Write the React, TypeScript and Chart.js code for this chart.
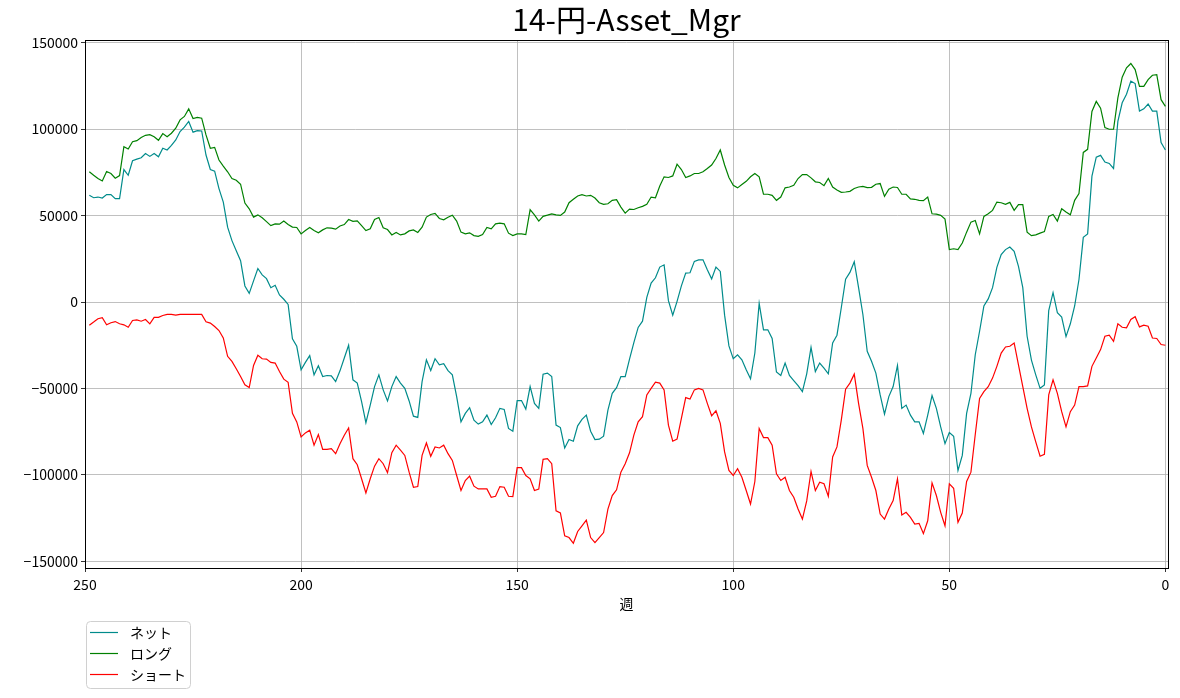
import React, { useEffect, useRef } from 'react';
import Chart from 'chart.js/auto';

// weeks before now, oldest first
const weeks: number[] = Array.from({ length: 250 }, (_, i) => 249 - i);

const netValues: number[] = [
  61700, 60300, 60700, 60100, 62100, 62100, 59800, 59800, 76600, 73300,
  81700, 82600, 83400, 85900, 84200, 85900, 84000, 88900, 87900, 90600,
  93700, 98600, 101100, 104400, 98200, 99100, 98900, 85000, 76600, 75700,
  65600, 57800, 43300, 35500, 29700, 23900, 9300, 5000, 12200, 19400,
  15700, 13500, 8300, 9700, 4100, 1600, -1400, -21300, -25600, -39200,
  -34900, -31000, -42100, -36900, -43100, -42500, -42700, -46000, -39800, -32400,
  -25000, -45000, -46900, -57600, -69800, -59600, -48900, -42100, -50800, -57200,
  -48900, -43100, -46900, -49900, -57200, -66000, -66700, -46000, -33400, -39600,
  -32800, -36300, -35700, -39700, -42100, -54700, -69300, -64400, -61100, -68300,
  -70600, -69300, -65400, -70800, -66900, -61500, -62100, -73100, -74700, -57000,
  -57000, -61900, -48900, -58600, -61500, -41700, -41100, -43100, -71200, -72600,
  -84400, -79500, -80500, -71600, -67900, -65400, -74700, -79500, -79300, -77600,
  -62500, -52800, -49500, -43100, -43100, -33000, -23500, -14700, -11100, 2700,
  10900, 14000, 20200, 21500, 800, -7600, 400, 9300, 16700, 16900,
  23500, 24400, 24400, 18600, 13400, 20200, 17700, -7600, -25400, -32800,
  -30500, -33400, -39200, -44400, -29500, -800, -16100, -16100, -21100, -40500,
  -42500, -35300, -42500, -45400, -48300, -51800, -41500, -26200, -40200, -35300,
  -38200, -41500, -23700, -19200, -3300, 13200, 17100, 23300, 8300, -7200,
  -28500, -34300, -41100, -53700, -64800, -54700, -48900, -36700, -61500, -59600,
  -65400, -69300, -69300, -76000, -65400, -54100, -61500, -72200, -81900, -75500,
  -77600, -97400, -88700, -64400, -52800, -30500, -16900, -2300, 1800, 8300,
  20000, 27400, 30300, 31800, 29300, 20600, 8300, -19800, -33600, -42100,
  -49900, -47900, -4900, 5400, -6200, -8700, -20000, -12600, -2300, 13000,
  37400, 39400, 72800, 83800, 84800, 80900, 80100, 77200, 104400, 115200,
  120100, 127700, 126300, 110400, 111700, 114500, 110400, 110400, 92200, 87900,
];

const longValues: number[] = [
  75300, 73300, 71400, 70000, 75500, 74300, 71600, 73100, 89800, 88500,
  92700, 93300, 95100, 96400, 96800, 95600, 93500, 97400, 95600, 97600,
  100500, 105300, 107300, 111700, 106100, 106700, 106300, 96600, 88900, 89400,
  82100, 78600, 75300, 71400, 70400, 68100, 57200, 53900, 49100, 50400,
  48700, 46500, 44200, 45200, 45000, 46800, 44800, 43300, 43100, 39400,
  41300, 43100, 41300, 40000, 41700, 42900, 42700, 42100, 44000, 44800,
  47700, 46600, 46900, 44200, 41300, 42300, 47700, 48900, 42900, 41900,
  38800, 40200, 38800, 39400, 41100, 41700, 40200, 43300, 49100, 50600,
  51200, 48300, 47500, 49000, 50200, 46800, 40400, 39400, 40000, 38400,
  38000, 39000, 43100, 42300, 45200, 45600, 45200, 39800, 38400, 39400,
  39400, 39000, 53400, 50400, 46800, 49500, 50200, 51000, 50400, 50100,
  52000, 57400, 59400, 61300, 62100, 61300, 61700, 60100, 57400, 56500,
  56800, 58800, 59200, 54900, 51400, 53700, 53500, 54500, 55300, 56500,
  60700, 60300, 67100, 72400, 72000, 72900, 79700, 76600, 72000, 72900,
  74300, 74300, 75300, 77200, 79200, 83000, 87900, 79200, 72000, 67500,
  66000, 67900, 69800, 72400, 74300, 72400, 62300, 62300, 61700, 58800,
  60700, 66000, 66500, 67500, 71400, 73700, 73700, 71800, 69500, 69100,
  67300, 71400, 66500, 64800, 63400, 63600, 64000, 65600, 66500, 66900,
  66200, 66300, 68100, 68500, 61100, 65200, 66500, 66200, 62300, 62300,
  59600, 59400, 58800, 58600, 60700, 51000, 50800, 50100, 47900, 30300,
  30800, 30300, 34100, 40400, 46200, 47100, 39400, 49500, 51000, 53000,
  57800, 57400, 56500, 57600, 53000, 56300, 56300, 40400, 38400, 38800,
  39800, 40700, 49500, 50600, 46800, 53900, 52000, 50400, 58800, 62700,
  86500, 88300, 110200, 116000, 112100, 100900, 99900, 99900, 118000, 130000,
  135400, 137900, 134400, 124700, 124700, 128600, 131100, 131500, 117000, 113100,
];

const shortValues: number[] = [
  -13400, -11600, -9700, -9100, -13200, -12000, -11300, -12600, -13200, -14600,
  -10700, -10300, -11100, -10100, -12600, -8900, -8900, -7800, -7200, -7200,
  -7600, -7200, -7200, -7200, -7200, -7200, -7200, -11400, -12200, -14200,
  -16500, -20800, -31400, -34300, -38600, -43100, -47900, -49500, -36700, -30800,
  -32800, -33000, -34900, -35300, -40200, -44600, -46400, -64400, -69300, -78000,
  -75700, -74100, -82800, -76600, -85200, -85200, -84800, -87700, -81900, -77000,
  -72800, -90600, -94100, -102200, -110400, -102200, -94900, -90600, -93500, -98700,
  -87100, -82800, -85700, -88700, -98400, -107100, -106700, -88700, -81500, -89200,
  -83800, -84400, -82800, -87700, -91600, -100300, -109000, -103200, -100700, -106500,
  -108100, -108100, -108100, -112900, -112300, -106700, -107100, -112300, -112500, -95800,
  -95800, -100300, -102200, -109000, -108100, -91000, -90600, -93500, -120700, -122000,
  -135200, -136200, -139500, -132700, -129400, -126100, -136200, -139100, -136200, -133300,
  -119700, -111900, -108600, -98400, -93500, -87200, -77000, -69300, -66300, -53700,
  -49900, -46400, -46900, -50800, -71200, -80500, -79300, -67300, -55300, -56100,
  -50800, -49900, -50800, -58600, -65800, -62900, -70200, -86700, -97400, -100300,
  -96400, -101300, -109000, -116800, -103800, -73100, -78400, -78400, -82800, -99300,
  -103200, -101300, -109000, -112900, -119700, -125500, -115000, -98000, -109000, -104200,
  -105100, -112300, -89600, -83800, -68300, -50400, -46900, -41700, -58600, -73100,
  -94500, -101300, -109000, -122600, -125500, -119700, -114800, -102200, -123200, -121600,
  -124500, -128400, -128000, -133900, -126500, -104600, -111900, -121600, -129400, -105100,
  -107700, -127400, -122000, -103800, -98400, -76600, -55700, -51800, -49000, -44000,
  -37200, -29500, -26000, -25600, -23700, -36300, -48900, -61500, -72200, -80900,
  -89200, -88100, -53700, -45000, -52800, -63400, -72200, -63400, -59600, -48900,
  -48900, -48500, -37200, -32400, -27500, -19800, -19200, -22700, -12600, -14600,
  -14900, -10100, -8500, -14400, -13400, -14000, -20800, -21100, -24600, -25000,
];

const xTicks: number[] = [250, 200, 150, 100, 50, 0];
const yTicks: number[] = [-150000, -100000, -50000, 0, 50000, 100000, 150000];

const FONT = '"Noto Sans CJK JP", "Noto Sans", sans-serif';

const frame = {
  id: 'frame',
  afterDraw(chart: any) {
    const { ctx, chartArea } = chart;
    const { left, top, right, bottom } = chartArea;
    ctx.save();
    // spines
    ctx.strokeStyle = '#000';
    ctx.lineWidth = 1;
    ctx.strokeRect(Math.round(left) + 0.5, Math.round(top) + 0.5, Math.round(right - left), Math.round(bottom - top));

    ctx.fillStyle = '#000';
    ctx.textAlign = 'center';
    ctx.textBaseline = 'alphabetic';
    ctx.font = `30px ${FONT}`;
    ctx.fillText('14-円-Asset_Mgr', (left + right) / 2, 31);

    ctx.font = `14px ${FONT}`;
    ctx.textBaseline = 'middle';
    ctx.fillText('週', (left + right) / 2, 604);

    // legend
    const bx = 86, by = 621, bw = 104, bh = 67;
    ctx.beginPath();
    ctx.roundRect(bx + 0.5, by + 0.5, bw, bh, 4);
    ctx.fillStyle = 'rgba(255,255,255,0.8)';
    ctx.fill();
    ctx.strokeStyle = '#d0d0d0';
    ctx.stroke();
    ctx.textAlign = 'left';
    chart.data.datasets.forEach((ds: any, i: number) => {
      const y = by + 11.5 + i * 21;
      ctx.beginPath();
      ctx.moveTo(bx + 4, y);
      ctx.lineTo(bx + 32, y);
      ctx.strokeStyle = ds.borderColor;
      ctx.lineWidth = 1.2;
      ctx.stroke();
      ctx.fillStyle = '#000';
      ctx.fillText(ds.label, bx + 44, y);
    });
    ctx.restore();
  },
};

const fmt = (v: number) => (v < 0 ? '\u2212' + Math.abs(v) : String(v));

const App: React.FC = () => {
  const canvasRef = useRef<HTMLCanvasElement>(null);

  useEffect(() => {
    if (!canvasRef.current) return;
    const toPoints = (vals: number[]) => weeks.map((w, i) => ({ x: w, y: vals[i] }));

    const chart = new Chart(canvasRef.current, {
      type: 'line',
      data: {
        datasets: [
          { label: 'ネット', data: toPoints(netValues), borderColor: '#008b8b' },
          { label: 'ロング', data: toPoints(longValues), borderColor: '#008000' },
          { label: 'ショート', data: toPoints(shortValues), borderColor: '#ff0000' },
        ],
      },
      options: {
        animation: false,
        responsive: false,
        layout: { padding: { top: 40, right: 12, left: 0, bottom: 0 } },
        elements: {
          point: { radius: 0 },
          line: { borderWidth: 1.2, tension: 0 },
        },
        plugins: {
          legend: { display: false },
          tooltip: { enabled: false },
        },
        scales: {
          x: {
            type: 'linear',
            reverse: true,
            min: -0.6,
            max: 250,
            afterBuildTicks: (axis: any) => {
              axis.ticks = xTicks.map((v) => ({ value: v }));
            },
            afterFit: (axis: any) => {
              axis.height = 130;
            },
            grid: { color: '#b0b0b0', lineWidth: 0.8, tickColor: '#000', tickLength: 4 },
            border: { display: false },
            ticks: {
              color: '#000',
              font: { family: FONT, size: 14 },
              padding: 4,
              maxRotation: 0,
              autoSkip: false,
              callback: (v: any) => String(v),
            },
          },
          y: {
            min: -153800,
            max: 151500,
            afterBuildTicks: (axis: any) => {
              axis.ticks = yTicks.map((v) => ({ value: v }));
            },
            afterFit: (axis: any) => {
              axis.width = 85;
            },
            grid: { color: '#b0b0b0', lineWidth: 0.8, tickColor: '#000', tickLength: 4 },
            border: { display: false },
            ticks: {
              color: '#000',
              font: { family: FONT, size: 14 },
              padding: 3,
              autoSkip: false,
              callback: (v: any) => fmt(Number(v)),
            },
          },
        },
      },
      plugins: [frame],
    });

    return () => chart.destroy();
  }, []);

  return (
    <div style={{ position: 'absolute', left: 0, top: 0, width: 1180, height: 698, background: '#fff' }}>
      <canvas ref={canvasRef} width={1180} height={698} />
    </div>
  );
};

export default App;
